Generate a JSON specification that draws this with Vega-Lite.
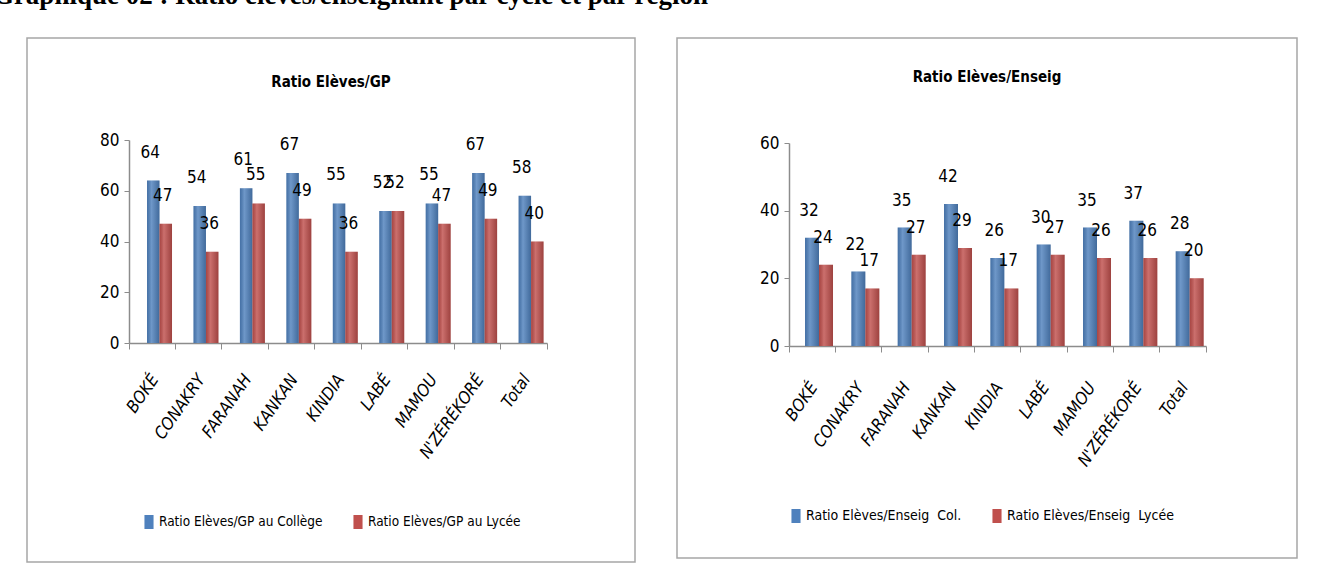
{
  "$schema": "https://vega.github.io/schema/vega-lite/v6.json",
  "background": "white",
  "padding": {"left": -8, "top": -18, "right": 5, "bottom": 0},
  "title": {"text": "Graphique 02 : Ratio élèves/enseignant par cycle et par région", "anchor": "start", "frame": "bounds", "font": "Liberation Serif", "fontSize": 27, "fontWeight": "bold", "color": "#000", "offset": 27, "dx": -26},
  "datasets": {
    "gp": [
      {"region": "BOKÉ", "serie": "Ratio Elèves/GP au Collège", "valeur": 64},
      {"region": "BOKÉ", "serie": "Ratio Elèves/GP au Lycée", "valeur": 47},
      {"region": "CONAKRY", "serie": "Ratio Elèves/GP au Collège", "valeur": 54},
      {"region": "CONAKRY", "serie": "Ratio Elèves/GP au Lycée", "valeur": 36},
      {"region": "FARANAH", "serie": "Ratio Elèves/GP au Collège", "valeur": 61},
      {"region": "FARANAH", "serie": "Ratio Elèves/GP au Lycée", "valeur": 55},
      {"region": "KANKAN", "serie": "Ratio Elèves/GP au Collège", "valeur": 67},
      {"region": "KANKAN", "serie": "Ratio Elèves/GP au Lycée", "valeur": 49},
      {"region": "KINDIA", "serie": "Ratio Elèves/GP au Collège", "valeur": 55},
      {"region": "KINDIA", "serie": "Ratio Elèves/GP au Lycée", "valeur": 36},
      {"region": "LABÉ", "serie": "Ratio Elèves/GP au Collège", "valeur": 52},
      {"region": "LABÉ", "serie": "Ratio Elèves/GP au Lycée", "valeur": 52},
      {"region": "MAMOU", "serie": "Ratio Elèves/GP au Collège", "valeur": 55},
      {"region": "MAMOU", "serie": "Ratio Elèves/GP au Lycée", "valeur": 47},
      {"region": "N'ZÉRÉKORÉ", "serie": "Ratio Elèves/GP au Collège", "valeur": 67},
      {"region": "N'ZÉRÉKORÉ", "serie": "Ratio Elèves/GP au Lycée", "valeur": 49},
      {"region": "Total", "serie": "Ratio Elèves/GP au Collège", "valeur": 58},
      {"region": "Total", "serie": "Ratio Elèves/GP au Lycée", "valeur": 40}
    ],
    "enseig": [
      {"region": "BOKÉ", "serie": "Ratio Elèves/Enseig  Col.", "valeur": 32},
      {"region": "BOKÉ", "serie": "Ratio Elèves/Enseig  Lycée", "valeur": 24},
      {"region": "CONAKRY", "serie": "Ratio Elèves/Enseig  Col.", "valeur": 22},
      {"region": "CONAKRY", "serie": "Ratio Elèves/Enseig  Lycée", "valeur": 17},
      {"region": "FARANAH", "serie": "Ratio Elèves/Enseig  Col.", "valeur": 35},
      {"region": "FARANAH", "serie": "Ratio Elèves/Enseig  Lycée", "valeur": 27},
      {"region": "KANKAN", "serie": "Ratio Elèves/Enseig  Col.", "valeur": 42},
      {"region": "KANKAN", "serie": "Ratio Elèves/Enseig  Lycée", "valeur": 29},
      {"region": "KINDIA", "serie": "Ratio Elèves/Enseig  Col.", "valeur": 26},
      {"region": "KINDIA", "serie": "Ratio Elèves/Enseig  Lycée", "valeur": 17},
      {"region": "LABÉ", "serie": "Ratio Elèves/Enseig  Col.", "valeur": 30},
      {"region": "LABÉ", "serie": "Ratio Elèves/Enseig  Lycée", "valeur": 27},
      {"region": "MAMOU", "serie": "Ratio Elèves/Enseig  Col.", "valeur": 35},
      {"region": "MAMOU", "serie": "Ratio Elèves/Enseig  Lycée", "valeur": 26},
      {"region": "N'ZÉRÉKORÉ", "serie": "Ratio Elèves/Enseig  Col.", "valeur": 37},
      {"region": "N'ZÉRÉKORÉ", "serie": "Ratio Elèves/Enseig  Lycée", "valeur": 26},
      {"region": "Total", "serie": "Ratio Elèves/Enseig  Col.", "valeur": 28},
      {"region": "Total", "serie": "Ratio Elèves/Enseig  Lycée", "valeur": 20}
    ]
  },
  "spacing": 32,
  "resolve": {"scale": {"color": "independent", "x": "independent", "y": "independent", "xOffset": "independent"}, "legend": {"color": "independent"}},
  "hconcat": [
    {
      "width": 608, "height": 524,
      "data": {"name": "gp"},
      "title": {"text": "Ratio Elèves/GP", "offset": -67, "anchor": "middle", "baseline": "bottom"},
      "encoding": {
        "x": {"field": "region", "type": "nominal", "sort": null, "title": null,
          "scale": {"paddingInner": 0, "paddingOuter": 0, "range": [102, 520]},
          "axis": {"orient": "bottom", "offset": -219, "domain": true, "bandPosition": 1, "tickExtra": true, "tickSize": 6, "labelOffset": 3, "labelAngle": -55, "labelAlign": "right", "labelBaseline": "middle", "labelPadding": 27, "labelFontSize": 17, "labelFontStyle": "italic"}},
        "xOffset": {"field": "serie", "type": "nominal", "sort": null, "scale": {"paddingInner": 0, "paddingOuter": 0.858, "align": 0.84}},
        "y": {"field": "valeur", "type": "quantitative", "title": null, "scale": {"domain": [0, 80], "range": [305, 102], "nice": false},
          "axis": {"offset": -102, "values": [0, 20, 40, 60, 80], "domain": true, "tickSize": 5, "labelPadding": 5, "labelFontSize": 17}}
      },
      "layer": [
        {"mark": {"type": "bar"}, "encoding": {
          "color": {"field": "serie", "type": "nominal", "sort": null, "scale": {"domain": ["Ratio Elèves/GP au Collège", "Ratio Elèves/GP au Lycée"], "range": ["#4F81BD", "#C0504D"]},
            "legend": {"orient": "none", "legendX": 115, "legendY": 477, "direction": "horizontal", "title": null, "symbolType": "M-0.65,-1H0.65V1H-0.65Z", "symbolSize": 196}}
        }},
        {"mark": {"type": "bar", "color": {"gradient": "linear", "x1": 0, "y1": 0, "x2": 1, "y2": 0, "stops": [{"offset": 0, "color": "rgba(0,0,0,0.12)"}, {"offset": 0.35, "color": "rgba(255,255,255,0.18)"}, {"offset": 1, "color": "rgba(0,0,0,0.18)"}]}}},
        {"mark": {"type": "text", "baseline": "alphabetic", "dy": -23, "dx": -3, "fontSize": 17, "font": "Liberation Sans Narrow, DejaVu Sans Condensed, sans-serif", "color": "#000"}, "encoding": {
          "text": {"field": "valeur", "type": "quantitative"}
        }}
      ]
    },
    {
      "width": 620, "height": 520,
      "data": {"name": "enseig"},
      "title": {"text": "Ratio Elèves/Enseig", "offset": -62, "anchor": "middle", "baseline": "bottom"},
      "encoding": {
        "x": {"field": "region", "type": "nominal", "sort": null, "title": null,
          "scale": {"paddingInner": 0, "paddingOuter": 0, "range": [112, 529]},
          "axis": {"orient": "bottom", "offset": -212, "domain": true, "bandPosition": 1, "tickExtra": true, "tickSize": 6, "labelOffset": 2, "labelAngle": -55, "labelAlign": "right", "labelBaseline": "middle", "labelPadding": 32, "labelFontSize": 17, "labelFontStyle": "italic"}},
        "xOffset": {"field": "serie", "type": "nominal", "sort": null, "scale": {"paddingInner": 0, "paddingOuter": 0.655, "align": 0.873}},
        "y": {"field": "valeur", "type": "quantitative", "title": null, "scale": {"domain": [0, 60], "range": [308, 105], "nice": false},
          "axis": {"offset": -112, "values": [0, 20, 40, 60], "domain": true, "tickSize": 5, "labelPadding": 5, "labelFontSize": 17}}
      },
      "layer": [
        {"mark": {"type": "bar"}, "encoding": {
          "color": {"field": "serie", "type": "nominal", "sort": null, "scale": {"domain": ["Ratio Elèves/Enseig  Col.", "Ratio Elèves/Enseig  Lycée"], "range": ["#4F81BD", "#C0504D"]},
            "legend": {"orient": "none", "legendX": 112, "legendY": 471, "direction": "horizontal", "title": null, "symbolType": "M-0.65,-1H0.65V1H-0.65Z", "symbolSize": 196, "labelFontSize": 14, "labelExpr": "replace(datum.label, '  ', ' \u00a0')"}}
        }},
        {"mark": {"type": "bar", "color": {"gradient": "linear", "x1": 0, "y1": 0, "x2": 1, "y2": 0, "stops": [{"offset": 0, "color": "rgba(0,0,0,0.12)"}, {"offset": 0.35, "color": "rgba(255,255,255,0.18)"}, {"offset": 1, "color": "rgba(0,0,0,0.18)"}]}}},
        {"mark": {"type": "text", "baseline": "alphabetic", "dy": -22, "dx": -3, "fontSize": 17, "font": "Liberation Sans Narrow, DejaVu Sans Condensed, sans-serif", "color": "#000"}, "encoding": {
          "text": {"field": "valeur", "type": "quantitative"}
        }}
      ]
    }
  ],
  "config": {
    "view": {"stroke": "#a6a6a6", "strokeWidth": 1.5, "fill": "white"},
    "axis": {"grid": false, "labelFont": "Liberation Sans Narrow, DejaVu Sans Condensed, sans-serif", "labelColor": "#000", "tickColor": "#8c8c8c", "domainColor": "#8c8c8c", "domainWidth": 1.5},
    "legend": {"labelFont": "Liberation Sans Narrow, DejaVu Sans Condensed, sans-serif", "labelFontSize": 13.5, "labelLimit": 400, "labelColor": "#000", "columnPadding": 28, "labelOffset": 3, "symbolStrokeWidth": 0, "symbolOpacity": 1},
    "title": {"font": "Liberation Sans Narrow, DejaVu Sans Condensed, sans-serif", "fontSize": 15, "fontWeight": "bold", "color": "#000"}
  }
}
